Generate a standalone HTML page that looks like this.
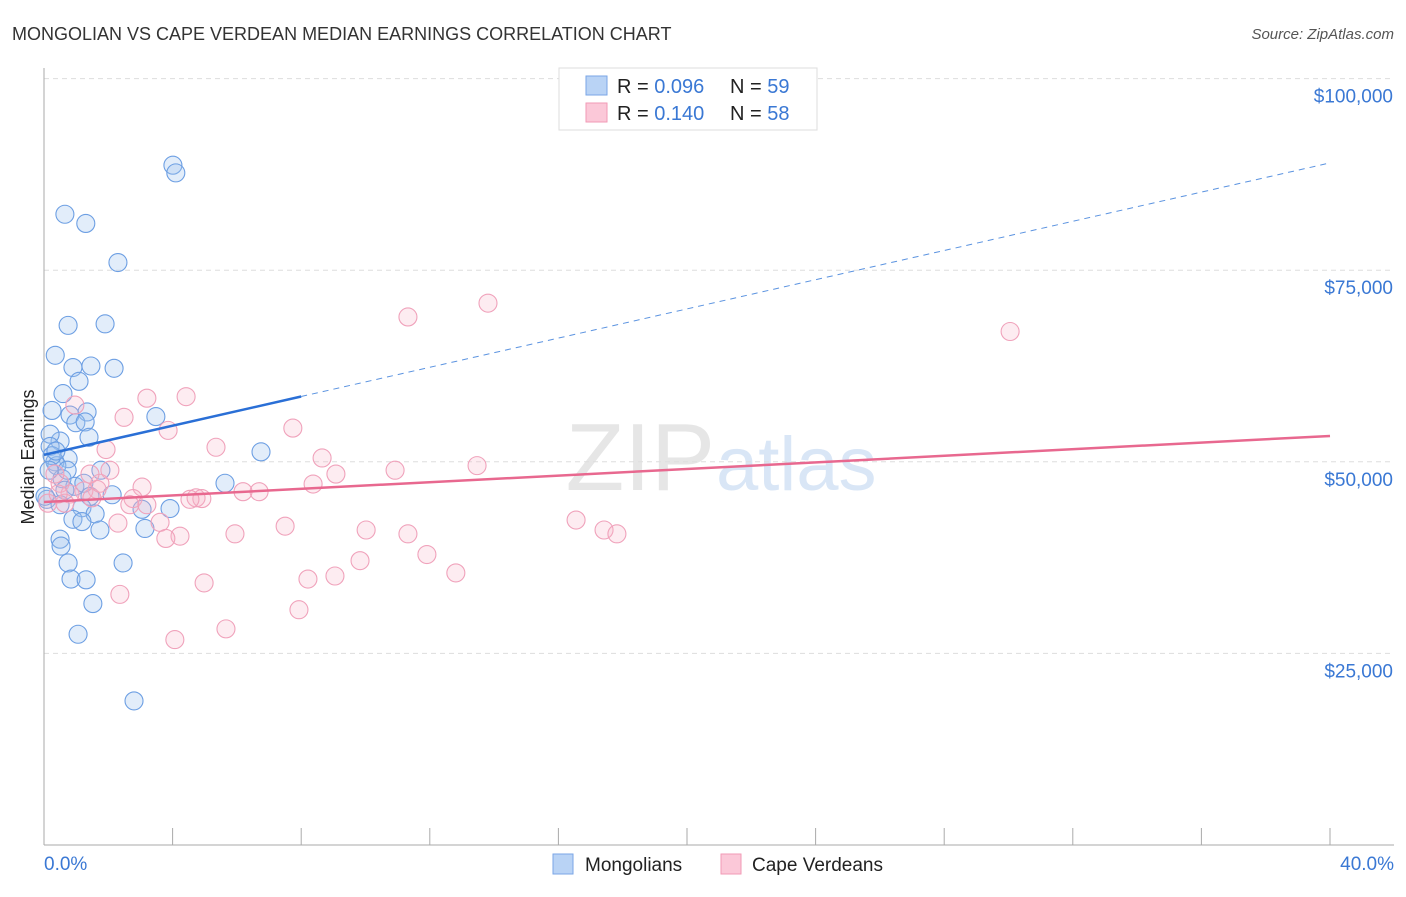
<!DOCTYPE html>
<html><head><meta charset="utf-8"><style>
body{margin:0;background:#fff;font-family:"Liberation Sans",sans-serif;}
svg text{font-family:"Liberation Sans",sans-serif;}
</style></head><body>
<svg id="chart" width="1406" height="892" xmlns="http://www.w3.org/2000/svg">
<text x="12" y="40" font-size="18" fill="#333">MONGOLIAN VS CAPE VERDEAN MEDIAN EARNINGS CORRELATION CHART</text>
<text x="1394" y="39" font-size="15" fill="#555" text-anchor="end" font-style="italic">Source: ZipAtlas.com</text>
<text x="715" y="490" font-size="96" fill="#e6e6e6" text-anchor="end" font-family="Liberation Serif">ZIP</text>
<text x="716" y="490" font-size="76" fill="#d9e6f6">atlas</text>
<text x="34" y="457" font-size="18" fill="#222" text-anchor="middle" transform="rotate(-90 34 457)">Median Earnings</text>
<g id="grid"></g><g id="pts"></g><g id="lines"></g>
<g>
<rect x="559" y="68" width="258" height="62" fill="#fff" stroke="#ddd"/>
<rect x="586" y="76" width="21" height="19" fill="#b9d3f5" stroke="#7aa6e6"/>
<rect x="586" y="103" width="21" height="19" fill="#fbc8d8" stroke="#f29ab6"/>
<text x="617" y="93" font-size="20" fill="#222">R = <tspan fill="#3a78d4">0.096</tspan></text>
<text x="730" y="93" font-size="20" fill="#222">N = <tspan fill="#3a78d4">59</tspan></text>
<text x="617" y="120" font-size="20" fill="#222">R = <tspan fill="#3a78d4"> 0.140</tspan></text>
<text x="730" y="120" font-size="20" fill="#222">N = <tspan fill="#3a78d4">58</tspan></text>
</g>
<g>
<rect x="553" y="854" width="20" height="20" fill="#b9d3f5" stroke="#7aa6e6"/>
<text x="585" y="871" font-size="19" fill="#222">Mongolians</text>
<rect x="721" y="854" width="20" height="20" fill="#fbc8d8" stroke="#f29ab6"/>
<text x="752" y="871" font-size="19" fill="#222">Cape Verdeans</text>
</g>
</svg>
<script>
const yTicks=[25000,50000,75000,100000];
const yTickLabels=["$25,000","$50,000","$75,000","$100,000"];
const xEnds=[0,40];
const xEndLabels=["0.0%","40.0%"];
const mongX=[4.01,4.1,0.65,1.3,2.3,0.75,1.9,0.35,0.9,1.46,2.18,1.09,0.59,3.48,0.25,0.81,1.34,0.99,1.28,1.4,0.5,0.19,0.19,6.75,0.75,0.34,0.4,1.77,0.56,5.63,0.96,1.24,0.65,1.43,1.18,3.92,3.05,1.59,0.9,1.18,1.74,3.14,0.5,0.53,2.46,0.75,0.84,1.31,1.52,1.06,2.8,0.09,0.25,0.37,0.03,0.5,0.16,2.12,0.72];
const mongY=[88700,87700,82300,81100,76000,67800,68000,63900,62300,62500,62200,60500,58900,55900,56700,56100,56500,55100,55200,53200,52700,53600,52000,51300,50400,50000,49500,48900,47800,47200,46800,47200,46300,45500,44000,43900,43800,43200,42500,42200,41100,41300,39900,39000,36800,36800,34700,34600,31500,27500,18800,45100,50800,51400,45500,44400,48900,45700,48900];
const cvX=[13.81,11.32,30.05,3.2,4.42,0.96,2.49,3.86,7.74,5.35,1.93,8.65,13.47,2.05,10.92,9.08,1.65,8.37,3.05,1.24,6.69,6.19,4.73,4.91,2.77,1.49,2.67,3.2,4.54,3.61,2.3,16.55,7.5,10.02,17.42,17.82,11.32,5.94,4.23,3.79,11.91,9.83,12.81,9.05,8.21,4.98,2.36,7.93,5.66,4.07,0.12,0.5,0.34,0.81,0.65,1.74,1.43,0.44];
const cvY=[70700,68900,67000,58300,58500,57400,55800,54100,54400,51900,51600,50500,49500,48900,48900,48400,46400,47100,46700,46200,46100,46100,45300,45200,45200,45300,44400,44400,45100,42100,42000,42400,41600,41100,41100,40600,40600,40600,40300,40000,37900,37100,35500,35100,34700,34200,32700,30700,28200,26800,44600,47200,48400,45800,44600,47200,48400,45800];
const blueTrend=[50900,89000], pinkTrend=[44750,53370];
const X=v=>44+v/40*1286, Y=v=>845-v/25000*191.6;
const NS="http://www.w3.org/2000/svg";
function mk(t,a,p){const e=document.createElementNS(NS,t);for(const k in a)e.setAttribute(k,a[k]);p.appendChild(e);return e;}
const g=document.getElementById('grid');
yTicks.forEach((v,i)=>{
 const l=mk('line',{x1:44,x2:1394,y1:Y(v),y2:Y(v),stroke:'#ddd','stroke-dasharray':'5,4'},g);
 
 
 const t=mk('text',{x:1393,y:Y(v)+24,'font-size':19,fill:'#3a78d4','text-anchor':'end'},g);t.textContent=yTickLabels[i];
 
 
});
const ax=mk('line',{x1:44,x2:44,y1:68,y2:845,stroke:'#aaa'},g);


const bx=mk('line',{x1:44,x2:1394,y1:845,y2:845,stroke:'#aaa'},g);


for(let i=1;i<=10;i++){const tk=mk('line',{x1:44+i*128.6,x2:44+i*128.6,y1:828,y2:845,stroke:'#aaa'},g);
 
 }
xEnds.forEach((v,i)=>{const t=mk('text',{x:i?1394:44,y:870,'font-size':19,fill:'#3a78d4','text-anchor':i?'end':'start'},g);t.textContent=xEndLabels[i];
 
 });
const p=document.getElementById('pts');
mongX.forEach((x,i)=>{const c=mk('circle',{cx:X(x),cy:Y(mongY[i]),r:9,fill:'rgba(160,195,240,0.3)',stroke:'#6d9fe3','stroke-width':1.1},p);
 
 });
cvX.forEach((x,i)=>{const c=mk('circle',{cx:X(x),cy:Y(cvY[i]),r:9,fill:'rgba(248,180,200,0.25)',stroke:'#f0a2bb','stroke-width':1.1},p);
 
 });
const L=document.getElementById('lines');
const bm=v=>blueTrend[0]+(blueTrend[1]-blueTrend[0])*v/40;
const b1=mk('line',{x1:X(0),y1:Y(bm(0)),x2:X(8),y2:Y(bm(8)),stroke:'#2a6fd6','stroke-width':2.5},L);


const b2=mk('line',{x1:X(8),y1:Y(bm(8)),x2:X(40),y2:Y(bm(40)),stroke:'#5b93e0','stroke-width':1,'stroke-dasharray':'6,5'},L);


const pl=mk('line',{x1:X(0),y1:Y(pinkTrend[0]),x2:X(40),y2:Y(pinkTrend[1]),stroke:'#e8688f','stroke-width':2.5},L);


</script>
</body></html>
